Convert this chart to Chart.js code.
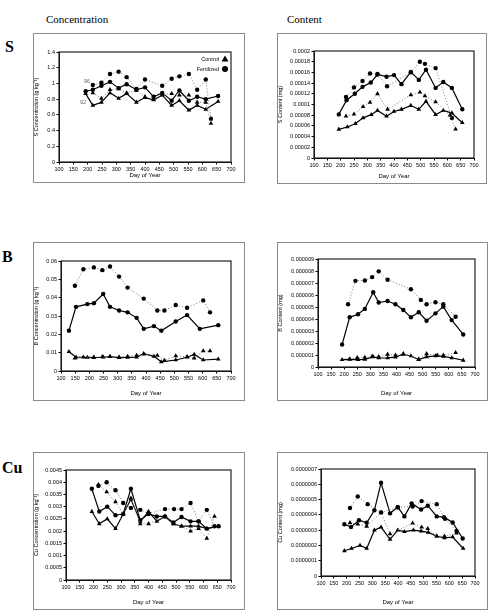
<!DOCTYPE html>
<html>
<head>
<meta charset="utf-8">
<script src="https://cdn.jsdelivr.net/npm/chart.js@4.4.1/dist/chart.umd.min.js"></script>
<style>
body { margin: 0; background: #fff; width: 493px; height: 616px; position: relative; overflow: hidden; font-family: "Liberation Serif", serif; }
canvas { position: absolute; }
.frame { position: absolute; border: 1.5px solid #8a8a8a; box-sizing: border-box; pointer-events: none; }
.head { position: absolute; font-size: 11px; color: #000; }
.elem { position: absolute; font-size: 16px; font-weight: bold; color: #000; }
</style>
</head>
<body>
<div class="head" style="left:46px;top:13px">Concentration</div>
<div class="head" style="left:287px;top:13px">Content</div>
<div class="elem" style="left:5px;top:38px">S</div>
<div class="elem" style="left:2px;top:248px">B</div>
<div class="elem" style="left:2px;top:459px">Cu</div>

<script>
// [day of year, value] pairs
const sConcFertSolid = [[193,0.90],[218,0.92],[248,0.97],[278,1.02],[308,0.94],[336,0.99],[370,0.92],[400,0.95],[430,0.83],[460,0.88],[493,0.78],[520,0.91],[553,0.78],[582,0.83],[612,0.80],[655,0.84]];
const sConcFertDotted = [[218,0.98],[248,1.01],[278,1.12],[308,1.15],[336,1.08],[370,0.93],[400,1.05],[460,0.97],[493,1.06],[520,1.09],[553,1.12],[582,0.92],[612,1.05],[630,0.55]];
const sConcCtlSolid = [[193,0.87],[218,0.72],[248,0.76],[278,0.88],[308,0.81],[336,0.87],[370,0.76],[400,0.82],[430,0.79],[460,0.85],[493,0.72],[520,0.78],[553,0.66],[582,0.72],[612,0.67],[655,0.77]];
const sConcCtlDotted = [[218,0.88],[248,0.81],[278,0.92],[308,0.93],[336,0.88],[370,0.91],[400,0.83],[430,0.80],[460,0.86],[493,0.87],[520,0.85],[553,0.85],[582,0.76],[612,0.76],[630,0.49]];

const sContFertSolid = [[193,0.0000815],[222,0.000108],[253,0.000120],[282,0.000133],[313,0.000141],[338,0.000156],[372,0.000152],[400,0.000155],[428,0.000138],[463,0.000161],[493,0.000146],[520,0.000165],[556,0.000131],[585,0.000142],[617,0.000131],[656,0.000091]];
const sContFertDotted = [[220,0.000114],[250,0.000132],[282,0.000144],[310,0.000158],[338,0.000157],[374,0.000134],[463,0.000160],[497,0.000180],[516,0.000176],[556,0.000168],[617,0.000075]];
const sContCtlSolid = [[193,0.0000536],[225,0.000058],[255,0.000064],[284,0.000075],[315,0.000081],[338,0.000089],[372,0.000078],[400,0.000087],[428,0.000091],[463,0.000098],[493,0.000091],[520,0.000106],[556,0.000081],[585,0.000089],[617,0.000084],[656,0.000066]];
const sContCtlDotted = [[220,0.000078],[250,0.000082],[284,0.000096],[310,0.000104],[338,0.000120],[376,0.000091],[463,0.000118],[497,0.000123],[516,0.000116],[556,0.000105],[610,0.000080],[631,0.000054]];

const bConcFertSolid = [[128,0.022],[153,0.035],[193,0.0365],[216,0.037],[249,0.042],[273,0.035],[305,0.033],[335,0.032],[367,0.029],[392,0.023],[428,0.0245],[454,0.022],[505,0.027],[545,0.0305],[590,0.023],[655,0.025]];
const bConcFertDotted = [[149,0.0465],[179,0.0555],[216,0.0565],[246,0.055],[273,0.057],[305,0.0515],[335,0.0455],[392,0.0395],[440,0.033],[465,0.033],[505,0.036],[545,0.0345],[602,0.0385],[626,0.032]];
const bConcCtlSolid = [[128,0.0105],[153,0.0075],[193,0.0074],[216,0.0073],[249,0.0075],[273,0.0078],[305,0.0073],[335,0.0074],[367,0.0075],[392,0.0095],[428,0.008],[454,0.005],[505,0.006],[545,0.0075],[570,0.009],[602,0.006],[655,0.0065]];
const bConcCtlDotted = [[149,0.007],[179,0.0075],[216,0.0075],[246,0.0078],[273,0.008],[305,0.0075],[335,0.008],[367,0.0085],[392,0.0092],[440,0.0085],[465,0.0058],[505,0.0082],[545,0.0078],[570,0.007],[602,0.011],[626,0.011]];

const bContFertSolid = [[192,0.00000187],[221,0.00000414],[253,0.00000439],[279,0.00000484],[311,0.00000623],[332,0.00000537],[366,0.0000055],[396,0.00000523],[426,0.00000475],[455,0.00000414],[485,0.00000456],[515,0.00000386],[549,0.00000447],[579,0.00000503],[611,0.00000391],[655,0.00000271]];
const bContFertDotted = [[215,0.00000523],[243,0.00000718],[279,0.00000721],[307,0.00000749],[332,0.00000797],[366,0.00000727],[455,0.00000648],[493,0.00000559],[515,0.00000523],[549,0.0000054],[579,0.00000523],[626,0.00000419]];
const bContCtlSolid = [[192,0.00000061],[221,0.00000063],[253,0.00000062],[279,0.00000063],[311,0.00000084],[332,0.00000075],[366,0.00000076],[396,0.00000082],[426,0.00000106],[455,0.00000092],[485,0.00000062],[515,0.00000084],[549,0.00000092],[579,0.00000088],[611,0.00000076],[655,0.00000056]];
const bContCtlDotted = [[221,0.00000068],[250,0.00000078],[279,0.00000079],[307,0.00000089],[332,0.00000085],[366,0.00000106],[396,0.00000098],[426,0.0000011],[485,0.00000064],[515,0.0000011],[556,0.00000098],[579,0.00000098],[626,0.0000012]];

const cuConcFertSolid = [[194,0.00373],[221,0.0028],[250,0.0030],[280,0.00265],[308,0.0027],[336,0.00373],[370,0.00245],[400,0.0027],[430,0.0026],[460,0.0026],[490,0.00235],[520,0.00258],[553,0.0024],[582,0.0024],[612,0.0021],[655,0.0022]];
const cuConcFertDotted = [[218,0.00385],[248,0.0040],[280,0.00367],[308,0.00315],[336,0.00295],[370,0.00287],[400,0.00272],[460,0.0029],[493,0.0029],[520,0.0029],[553,0.00315],[582,0.0024],[612,0.00287],[640,0.0022]];
const cuConcCtlSolid = [[194,0.0028],[221,0.0023],[250,0.0025],[280,0.0021],[308,0.0027],[336,0.0033],[370,0.0024],[400,0.0028],[430,0.0024],[460,0.0026],[490,0.0023],[520,0.0022],[553,0.0022],[582,0.0022],[612,0.0021],[655,0.0022]];
const cuConcCtlDotted = [[218,0.0039],[248,0.0036],[280,0.0032],[308,0.0027],[336,0.00335],[370,0.0023],[400,0.0023],[460,0.0026],[493,0.0023],[520,0.0022],[553,0.0020],[582,0.0021],[612,0.0017],[640,0.0026]];

const cuContFertSolid = [[191,3.39e-7],[217,3.2e-7],[248,3.65e-7],[278,3.48e-7],[308,4.3e-7],[334,6.1e-7],[369,4.1e-7],[399,4.5e-7],[425,3.9e-7],[453,4.75e-7],[490,4.35e-7],[516,4.6e-7],[551,3.9e-7],[579,3.85e-7],[613,3.5e-7],[652,2.45e-7]];
const cuContFertDotted = [[213,4.45e-7],[243,5.2e-7],[282,4.7e-7],[334,4.15e-7],[399,4.5e-7],[457,4.55e-7],[492,4.9e-7],[551,4.7e-7],[583,3.75e-7],[628,2.95e-7]];
const cuContCtlSolid = [[191,1.65e-7],[219,1.8e-7],[252,2.0e-7],[278,1.8e-7],[308,3.0e-7],[334,3.2e-7],[369,2.4e-7],[399,3.0e-7],[425,2.9e-7],[460,3.0e-7],[490,2.93e-7],[518,2.85e-7],[551,2.6e-7],[581,2.5e-7],[613,2.55e-7],[654,1.8e-7]];
const cuContCtlDotted = [[213,3.48e-7],[243,3.4e-7],[278,3.25e-7],[334,4.15e-7],[369,2.75e-7],[457,3.45e-7],[492,3.2e-7],[516,3.1e-7],[551,2.6e-7],[581,2.6e-7],[628,2.8e-7]];

const dayTicks = { min: 100, max: 700, step: 50 };

function fmt(v) {
    if (v === 0) return '0';
    return v.toFixed(9).replace(/0+$/, '').replace(/\.$/, '');
}

function pts(arr) {
    return arr.map(p => ({ x: p[0], y: p[1] }));
}

function series(arr, style, dotted) {
    return {
        data: pts(arr),
        label: style === 'circle' ? 'Fertilized' : 'Control',
        borderColor: dotted ? '#7a7a7a' : '#000',
        borderWidth: dotted ? 1 : 1.2,
        borderDash: dotted ? [1, 2] : [],
        backgroundColor: '#000',
        pointBackgroundColor: '#000',
        pointBorderColor: '#000',
        pointStyle: style,
        pointRadius: style === 'circle' ? 2.2 : 2.7,
        pointBorderWidth: 0,
        tension: 0,
        showLine: true,
    };
}

// plot frame (all four sides) plus optional notes
const framePlugin = {
    id: 'frame',
    afterDraw(chart, args, opts) {
        const a = chart.chartArea;
        const ctx = chart.ctx;
        ctx.save();
        ctx.strokeStyle = opts.color || '#222';
        ctx.lineWidth = opts.width || 1.2;
        ctx.strokeRect(a.left, a.top, a.right - a.left, a.bottom - a.top);
        if (opts.legend) {
            ctx.font = '5.5px "Liberation Sans", Arial, sans-serif';
            ctx.fillStyle = '#000';
            ctx.textAlign = 'right';
            ctx.textBaseline = 'middle';
            ctx.fillText('Control', a.right - 12, a.top + 7);
            ctx.fillText('Fertilized', a.right - 12, a.top + 17);
            ctx.beginPath();
            ctx.moveTo(a.right - 6, a.top + 3.5);
            ctx.lineTo(a.right - 9.5, a.top + 9.5);
            ctx.lineTo(a.right - 2.5, a.top + 9.5);
            ctx.closePath();
            ctx.fill();
            ctx.beginPath();
            ctx.arc(a.right - 6, a.top + 17, 3, 0, Math.PI * 2);
            ctx.fill();
        }
        if (opts.notes) {
            ctx.font = '5.5px "Liberation Sans", Arial, sans-serif';
            ctx.fillStyle = '#666';
            ctx.textAlign = 'center';
            ctx.textBaseline = 'middle';
            opts.notes.forEach(n => {
                ctx.fillText(n.text, chart.scales.x.getPixelForValue(n.x), chart.scales.y.getPixelForValue(n.y));
            });
        }
        ctx.restore();
    }
};

const tickFont = { family: '"Liberation Sans", Arial, sans-serif', size: 5.5 };

function makePanel(cfg) {
    const c = document.createElement('canvas');
    c.width = cfg.box[2];
    c.height = cfg.box[3];
    c.style.left = cfg.box[0] + 'px';
    c.style.top = cfg.box[1] + 'px';
    document.body.appendChild(c);
    const f = document.createElement('div');
    f.className = 'frame';
    f.style.left = cfg.box[0] + 'px';
    f.style.top = cfg.box[1] + 'px';
    f.style.width = cfg.box[2] + 'px';
    f.style.height = cfg.box[3] + 'px';
    document.body.appendChild(f);

    return new Chart(c.getContext('2d'), {
        type: 'scatter',
        data: {
            datasets: [
                series(cfg.ctlDotted, 'triangle', true),
                series(cfg.fertDotted, 'circle', true),
                series(cfg.ctlSolid, 'triangle', false),
                series(cfg.fertSolid, 'circle', false),
            ],
        },
        options: {
            responsive: false,
            animation: false,
            devicePixelRatio: 1,
            layout: {
                padding: { top: cfg.pad[0], right: cfg.pad[1], bottom: 0, left: 0 },
            },
            plugins: {
                legend: { display: false },
                tooltip: { enabled: false },
                frame: { legend: cfg.legend, notes: cfg.notes },
            },
            scales: {
                x: {
                    type: 'linear',
                    min: dayTicks.min,
                    max: dayTicks.max,
                    afterFit: s => { s.height = cfg.pad[2]; },
                    ticks: { stepSize: dayTicks.step, autoSkip: false, maxRotation: 0, font: tickFont, color: '#000', padding: 2 },
                    grid: { display: true, drawOnChartArea: false, drawTicks: true, tickLength: 2.5, color: '#000' },
                    border: { color: '#000' },
                    title: { display: true, text: 'Day of Year', font: { family: '"Liberation Sans", Arial, sans-serif', size: 6 }, color: '#000', padding: { top: 1 } },
                },
                y: {
                    type: 'linear',
                    min: 0,
                    max: cfg.yMax,
                    afterFit: s => { s.width = cfg.pad[3]; },
                    ticks: { stepSize: cfg.yStep, font: tickFont, color: '#000', padding: 1.5, callback: v => fmt(v) },
                    grid: { display: true, drawOnChartArea: false, drawTicks: true, tickLength: 2.5, color: '#000' },
                    border: { color: '#000' },
                    title: { display: true, text: cfg.yTitle, font: { family: '"Liberation Sans", Arial, sans-serif', size: 5.5 }, color: '#000', padding: 0 },
                },
            },
        },
        plugins: [framePlugin],
    });
}

// box = [left, top, width, height]; pad = [top, right, bottom, left] plot-area insets
makePanel({
    box: [33, 33, 212, 150], pad: [19, 14, 21, 26],
    yMax: 1.4, yStep: 0.2, yTitle: 'S Concentration (g kg⁻¹)',
    fertSolid: sConcFertSolid, fertDotted: sConcFertDotted, ctlSolid: sConcCtlSolid, ctlDotted: sConcCtlDotted,
    legend: true,
    notes: [{ text: '96', x: 198, y: 1.03 }, { text: '92', x: 184, y: 0.76 }],
});
makePanel({
    box: [277, 33, 210, 151], pad: [18, 13, 26, 37],
    yMax: 0.0002, yStep: 0.00002, yTitle: 'S Content (mg)',
    fertSolid: sContFertSolid, fertDotted: sContFertDotted, ctlSolid: sContCtlSolid, ctlDotted: sContCtlDotted,
});
makePanel({
    box: [33, 242, 212, 159], pad: [19, 14, 30, 28],
    yMax: 0.06, yStep: 0.01, yTitle: 'B Concentration (g kg⁻¹)',
    fertSolid: bConcFertSolid, fertDotted: bConcFertDotted, ctlSolid: bConcCtlSolid, ctlDotted: bConcCtlDotted,
});
makePanel({
    box: [277, 242, 211, 159], pad: [17, 13, 34, 41],
    yMax: 0.000009, yStep: 0.000001, yTitle: 'B Content (mg)',
    fertSolid: bContFertSolid, fertDotted: bContFertDotted, ctlSolid: bContCtlSolid, ctlDotted: bContCtlDotted,
});
makePanel({
    box: [33, 452, 212, 158], pad: [18, 14, 30, 33],
    yMax: 0.0045, yStep: 0.0005, yTitle: 'Cu Concentration (g kg⁻¹)',
    fertSolid: cuConcFertSolid, fertDotted: cuConcFertDotted, ctlSolid: cuConcCtlSolid, ctlDotted: cuConcCtlDotted,
});
makePanel({
    box: [277, 452, 211, 158], pad: [17, 13, 34, 44],
    yMax: 0.0000007, yStep: 0.0000001, yTitle: 'Cu Content (mg)',
    fertSolid: cuContFertSolid, fertDotted: cuContFertDotted, ctlSolid: cuContCtlSolid, ctlDotted: cuContCtlDotted,
});
</script>
</body>
</html>
